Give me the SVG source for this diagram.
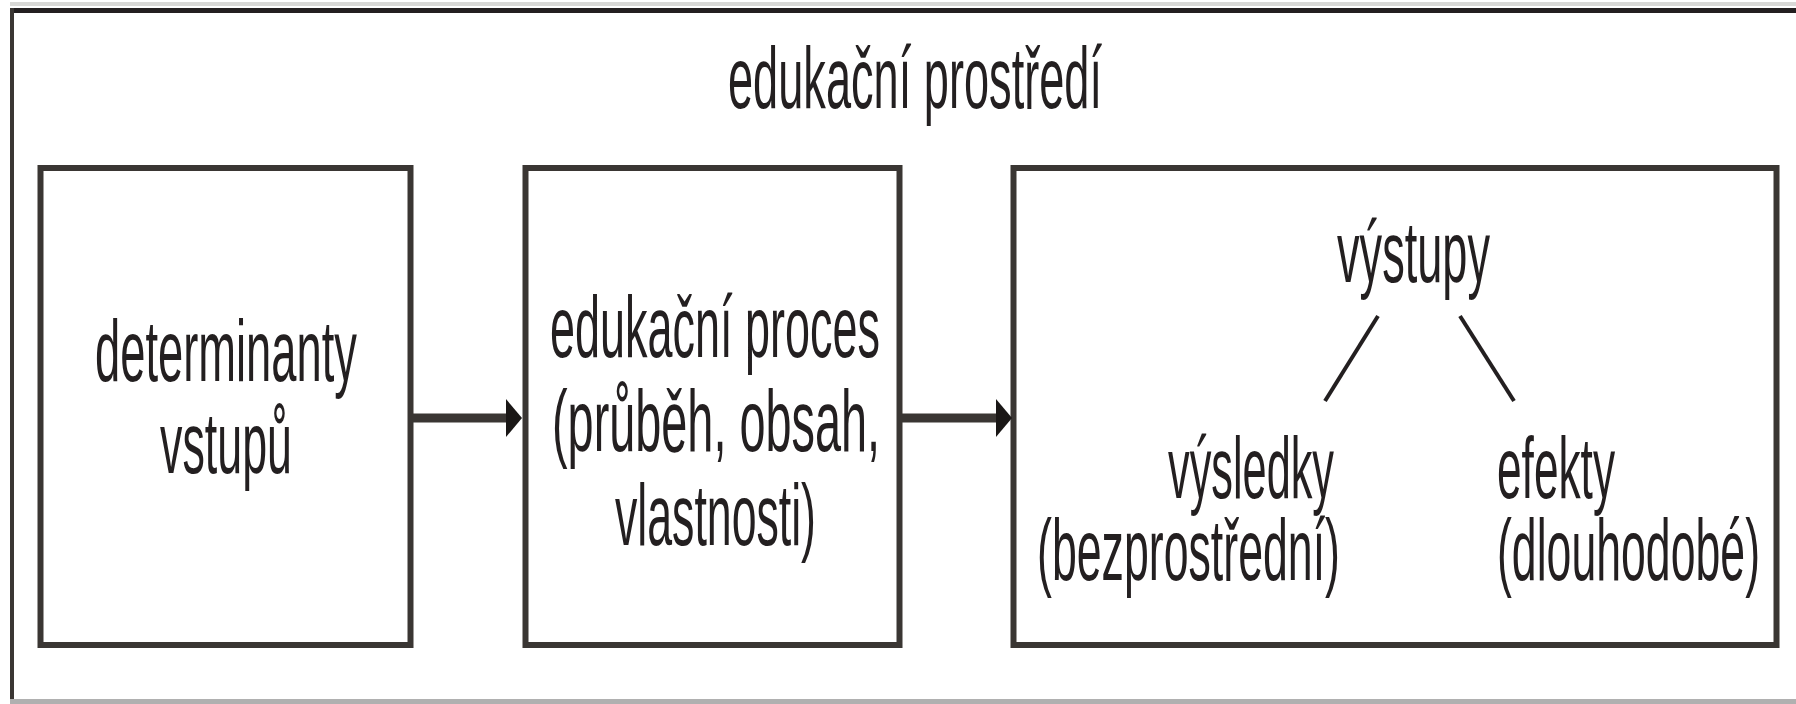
<svg xmlns="http://www.w3.org/2000/svg" width="1796" height="704" viewBox="0 0 1796 704">
<defs>
<style>
.box{fill:#ffffff;stroke:#3a3633;stroke-width:6}
.t{font-family:"Liberation Sans",Arial,sans-serif;font-size:88px;fill:#231f20}
.con{stroke:#3a3633;stroke-width:9;fill:none}
.thin{stroke:#231f20;stroke-width:4;fill:none}
</style>
<marker id="ah" markerUnits="userSpaceOnUse" markerWidth="20" markerHeight="44" refX="0" refY="22" orient="auto" viewBox="0 0 20 44">
<polygon points="0,3 16,22 0,41" fill="#1a1716"/>
</marker>
</defs>
<rect width="1796" height="704" fill="#ffffff"/>
<g id="outer">
<line x1="10" y1="10.5" x2="1796" y2="10.5" stroke="#231f20" stroke-width="5"/>
<line x1="10" y1="4" x2="1796" y2="4" stroke="#d8d8d6" stroke-width="4"/>
<line x1="12" y1="8" x2="1796" y2="8" stroke="#ffffff" stroke-width="0"/>
<line x1="12" y1="8" x2="12" y2="704" stroke="#3a3633" stroke-width="4"/>
<line x1="10" y1="701.5" x2="1796" y2="701.5" stroke="#b0b0b0" stroke-width="5"/>
<text class="t" x="728" y="108" textLength="374" lengthAdjust="spacingAndGlyphs">edukační prostředí</text>
</g>
<g id="determinanty">
<rect class="box" x="40.5" y="168" width="370" height="477"/>
<text class="t" x="95" y="381" textLength="262" lengthAdjust="spacingAndGlyphs">determinanty</text>
<text class="t" x="160" y="473" textLength="132" lengthAdjust="spacingAndGlyphs">vstupů</text>
</g>
<g id="proces">
<rect class="box" x="525.5" y="168" width="374" height="477"/>
<text class="t" x="550" y="357" textLength="330" lengthAdjust="spacingAndGlyphs">edukační proces</text>
<text class="t" x="552" y="451" textLength="328" lengthAdjust="spacingAndGlyphs">(průběh, obsah,</text>
<text class="t" x="615" y="545" textLength="201" lengthAdjust="spacingAndGlyphs">vlastnosti)</text>
</g>
<g id="vystupy">
<rect class="box" x="1013.5" y="168" width="763" height="477"/>
<text class="t" x="1337" y="282" textLength="153" lengthAdjust="spacingAndGlyphs">výstupy</text>
<line class="thin" x1="1378" y1="316" x2="1325" y2="401"/>
<line class="thin" x1="1460" y1="316" x2="1514" y2="401"/>
<text class="t" x="1168" y="498" textLength="166" lengthAdjust="spacingAndGlyphs">výsledky</text>
<text class="t" x="1037" y="580" textLength="303" lengthAdjust="spacingAndGlyphs">(bezprostřední)</text>
<text class="t" x="1497" y="498" textLength="118" lengthAdjust="spacingAndGlyphs">efekty</text>
<text class="t" x="1497" y="580" textLength="263" lengthAdjust="spacingAndGlyphs">(dlouhodobé)</text>
</g>
<g id="connectors">
<line class="con" x1="413" y1="418" x2="506" y2="418" marker-end="url(#ah)"/>
<line class="con" x1="902" y1="418" x2="996" y2="418" marker-end="url(#ah)"/>
</g>
</svg>
